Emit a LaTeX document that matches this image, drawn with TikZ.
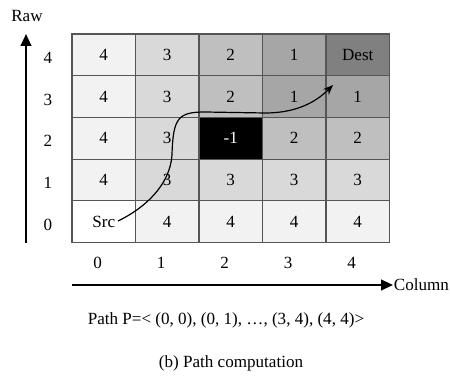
\documentclass[tikz,border=0pt]{standalone}
\usepackage{fontspec}
\setmainfont{Liberation Serif}
\usetikzlibrary{arrows.meta}
\definecolor{g4}{HTML}{F2F2F2}
\definecolor{g3}{HTML}{D9D9D9}
\definecolor{g2}{HTML}{BFBFBF}
\definecolor{g1}{HTML}{A6A6A6}
\definecolor{gd}{HTML}{808080}
\definecolor{gline}{HTML}{555555}

\begin{document}
\begin{tikzpicture}[x=0.75pt,y=-0.75pt,
  every node/.style={font=\fontsize{12.8}{15}\selectfont},
  cell/.style={draw=gline,line width=0.8pt,minimum width=47.6pt,minimum height=31.3pt,inner sep=0pt,outer sep=0pt},
  lab/.style={inner sep=1pt},
  axis/.style={-{Triangle[length=9pt,width=8pt]},line width=1.5pt},
  route/.style={-{Stealth[length=7.5pt,width=6pt]},line width=0.9pt}]
\useasboundingbox (0,0) rectangle (450,378);
% grid cells: column/row/value/fill
\foreach \c/\r/\v/\f in {0/4/4/g4,1/4/3/g3,2/4/2/g2,3/4/1/g1,4/4/Dest/gd,
                         0/3/4/g4,1/3/3/g3,2/3/2/g2,3/3/1/g1,4/3/1/g1,
                         0/2/4/g4,1/2/3/g3,3/2/2/g2,4/2/2/g2,
                         0/1/4/g4,1/1/3/g3,2/1/3/g3,3/1/3/g3,4/1/3/g3,
                         0/0/Src/white,1/0/4/g4,2/0/4/g4,3/0/4/g4,4/0/4/g4}{
  \node[cell,fill=\f] (c\c\r) at ({72+63.5*(\c+.5)},{34+41.7*(4.5-\r)}) {\v};
}
% blocked cell
\node[cell,fill=black,text=white] (c22) at ({72+63.5*2.5},{34+41.7*2.5}) {-1};
% row and column indices
\foreach \r in {0,...,4}{
  \node[lab] (row\r) at (48,{37+41.7*(4.5-\r)}) {\r};
}
\foreach \c in {0,...,4}{
  \node[lab] (col\c) at ({66+63.5*(\c+.5)},263) {\c};
}
% axes
\coordinate (ybot) at (26,243);
\coordinate (ytop) at (26,34);
\coordinate (xleft) at (72,285);
\coordinate (xright) at (393,285);
\draw[axis] (ybot) -- (ytop);
\draw[axis] (xleft) -- (xright);
\node[lab] (raw) at (27,16) {Raw};
\node[lab,anchor=west,inner sep=0.5pt] (column) at (xright) {Column};
% computed path
\coordinate (start) at (118,221);
\coordinate (tip) at (333,85);
\draw[route] (start) .. controls (145,208) and (170,185) .. (172,155)
  .. controls (173,118) and (178,112) .. (205,112) -- (265,113)
  .. controls (295,113) and (315,103) .. (tip);
% captions
\node[lab] (path) at (226,320) {Path P=< (0, 0), (0, 1), \dots, (3, 4), (4, 4)>};
\node[lab] (caption) at (231,363) {(b) Path computation};
\end{tikzpicture}
\end{document}
